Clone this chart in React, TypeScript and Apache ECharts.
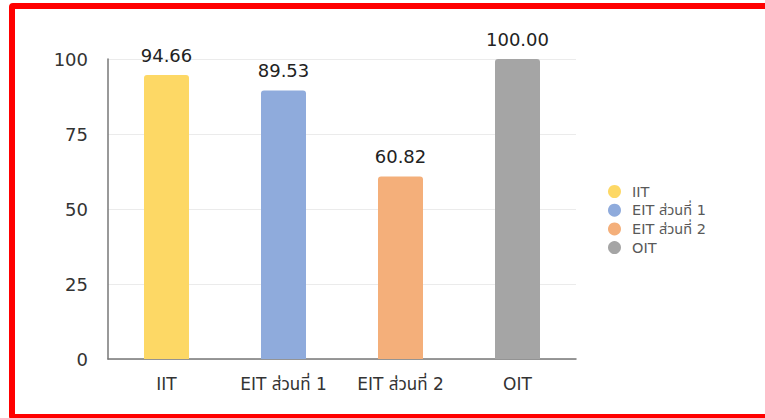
import React, { useEffect, useRef } from "react";
import * as echarts from "echarts";

const categories = ["IIT", "EIT ส่วนที่ 1", "EIT ส่วนที่ 2", "OIT"];
const values = [94.66, 89.53, 60.82, 100.0];
const colors = ["#FDD865", "#8FABDC", "#F4AF7A", "#A5A5A5"];
const yTicks = [0, 25, 50, 75, 100];

const FONT = "'DejaVu Sans', 'Noto Sans Thai', 'Noto Sans', sans-serif";

export default function App() {
  const ref = useRef<HTMLDivElement>(null);

  useEffect(() => {
    if (!ref.current) return;
    const chart = echarts.init(ref.current, undefined, { renderer: "svg" });
    const series = categories.map((name, i) => ({
      name,
      type: "bar",
      stack: "total",
      barWidth: 45,
      data: categories.map((_, j) => (j === i ? values[i] : "-")),
      itemStyle: { color: colors[i], borderRadius: [3, 3, 0, 0] },
      label: {
        show: true,
        position: "top",
        distance: 11,
        fontSize: 18,
        color: "#222",
        fontFamily: FONT,
        formatter: (p: any) => Number(p.value).toFixed(2),
      },
    }));
    chart.setOption({
      animation: false,
      backgroundColor: "#fff",
      textStyle: { fontFamily: FONT },
      grid: { left: 108, top: 59, width: 468, height: 300, containLabel: false },
      legend: {
        orient: "vertical",
        left: 603,
        top: 179,
        icon: "circle",
        itemWidth: 13,
        itemHeight: 13,
        itemGap: 3.7,
        textStyle: {
          fontSize: 14.5,
          color: "#595959",
          fontFamily: FONT,
          padding: [0, 0, 0, 6],
        },
        data: categories,
      },
      xAxis: {
        type: "category",
        data: categories,
        axisLine: { show: true, lineStyle: { color: "#777", width: 1.5 } },
        axisTick: { show: false },
        axisLabel: {
          interval: 0,
          margin: 16,
          fontSize: 17,
          color: "#333",
          fontFamily: FONT,
        },
      },
      yAxis: {
        type: "value",
        min: yTicks[0],
        max: yTicks[yTicks.length - 1],
        interval: 25,
        axisLine: { show: true, lineStyle: { color: "#777", width: 1.5 } },
        axisTick: { show: false },
        splitLine: { show: true, lineStyle: { color: "#ebebeb" } },
        axisLabel: { margin: 20, fontSize: 18, color: "#333", fontFamily: FONT },
      },
      series,
    });
    return () => chart.dispose();
  }, []);

  return (
    <div
      style={{
        position: "fixed",
        left: 0,
        top: 0,
        width: 765,
        height: 418,
        background: "#fff",
        overflow: "hidden",
      }}
    >
      <div ref={ref} style={{ position: "absolute", left: 0, top: 0, width: 765, height: 418 }} />
      <div
        style={{
          position: "absolute",
          left: 9,
          top: 3,
          width: 800,
          height: 417,
          boxSizing: "border-box",
          border: "6px solid #FF0000",
          borderRadius: 4,
          pointerEvents: "none",
        }}
      />
    </div>
  );
}
